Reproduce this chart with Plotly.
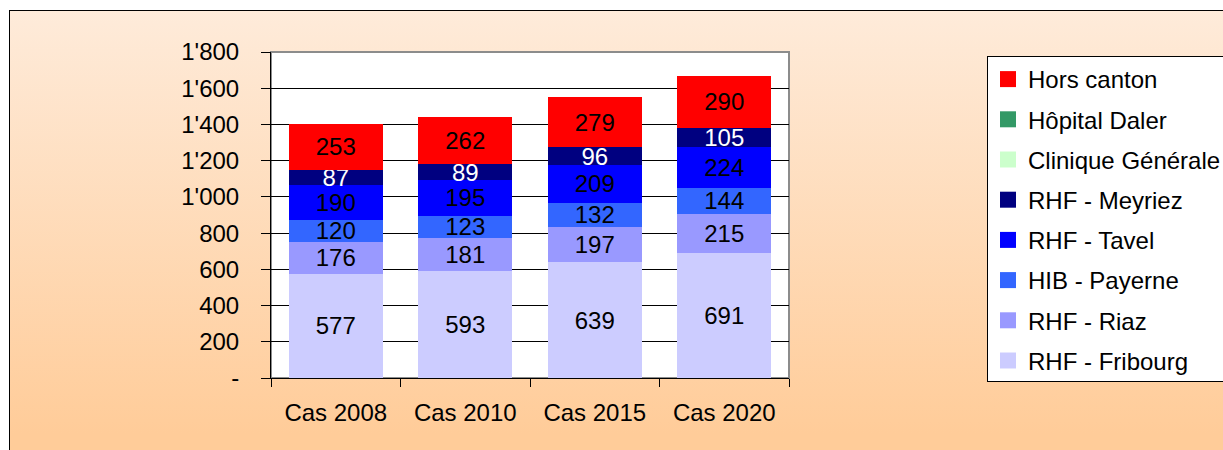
import base64
import plotly.graph_objects as go

# ---- data ----
categories = ["Cas 2008", "Cas 2010", "Cas 2015", "Cas 2020"]
rhf_fribourg = [577, 593, 639, 691]
rhf_riaz = [176, 181, 197, 215]
hib_payerne = [120, 123, 132, 144]
rhf_tavel = [190, 195, 209, 224]
rhf_meyriez = [87, 89, 96, 105]
clinique_generale = [0, 0, 0, 0]
hopital_daler = [0, 0, 0, 0]
hors_canton = [253, 262, 279, 290]

y_tick_values = [0, 200, 400, 600, 800, 1000, 1200, 1400, 1600, 1800]
y_tick_labels = ["-", "200", "400", "600", "800", "1'000", "1'200", "1'400", "1'600", "1'800"]

# stack order, bottom to top: (name, values, fill colour, label colour)
series = [
    ("RHF - Fribourg", rhf_fribourg, "#CCCCFF", "black"),
    ("RHF - Riaz", rhf_riaz, "#9999FF", "black"),
    ("HIB - Payerne", hib_payerne, "#3366FF", "black"),
    ("RHF - Tavel", rhf_tavel, "#0000FF", "black"),
    ("RHF - Meyriez", rhf_meyriez, "#000080", "white"),
    ("Clinique Générale", clinique_generale, "#CCFFCC", "black"),
    ("Hôpital Daler", hopital_daler, "#339966", "black"),
    ("Hors canton", hors_canton, "#FF0000", "black"),
]

FONT = "Liberation Sans, Arial, sans-serif"
FS = 24

# figure geometry (pixels)
W, H = 1223, 450
L, R, T, B = 271, 1223 - 789, 52, 450 - 378
PW, PH = W - L - R, H - T - B

fig = go.Figure()

for name, vals, color, tcolor in series:
    fig.add_trace(go.Bar(
        x=categories, y=vals, name=name,
        marker=dict(color=color, line=dict(width=0)),
        text=[str(v) if v else "" for v in vals],
        textposition="inside", insidetextanchor="middle", textangle=0,
        textfont=dict(family=FONT, size=FS, color=tcolor),
        constraintext="none", cliponaxis=False,
        showlegend=False, hoverinfo="x+y+name",
    ))

# legend entries, listed top to bottom
for name, vals, color, tcolor in reversed(series):
    fig.add_trace(go.Scatter(
        x=[None], y=[None], mode="markers", name=name, legendgroup=name,
        marker=dict(symbol="square", size=16, color=color),
        showlegend=True,
    ))

# peach gradient page background with a thin frame
svg = (
    f'<svg xmlns="http://www.w3.org/2000/svg" width="{W}" height="{H}" '
    f'viewBox="0 0 {W} {H}" preserveAspectRatio="none">'
    '<defs><linearGradient id="g" x1="0" y1="0" x2="0" y2="1">'
    '<stop offset="0" stop-color="#FEEBDA"/>'
    '<stop offset="0.9" stop-color="#FFCC99"/>'
    '<stop offset="1" stop-color="#FFCC99"/>'
    '</linearGradient></defs>'
    f'<rect width="{W}" height="{H}" fill="white"/>'
    f'<rect x="9.5" y="10.5" width="{W + 20}" height="{H + 20}" fill="url(#g)" '
    'stroke="black" stroke-width="1"/></svg>'
)
bg_src = "data:image/svg+xml;base64," + base64.b64encode(svg.encode("utf-8")).decode("ascii")

fig.update_layout(
    width=W, height=H,
    margin=dict(l=L, r=R, t=T, b=B, autoexpand=False),
    paper_bgcolor="white",
    plot_bgcolor="rgba(0,0,0,0)",
    barmode="stack",
    bargap=0.274,
    font=dict(family=FONT, size=FS, color="black"),
    uniformtext=dict(minsize=FS, mode="show"),
    images=[dict(
        source=bg_src, xref="paper", yref="paper",
        x=-L / PW, y=(PH + T) / PH, sizex=W / PW, sizey=H / PH,
        xanchor="left", yanchor="top", sizing="stretch", layer="below",
    )],
    shapes=[dict(
        type="rect", xref="paper", yref="paper", x0=0, x1=1, y0=0, y1=1,
        fillcolor="white", line=dict(color="#8C8C8C", width=2), layer="below",
    )],
    xaxis=dict(
        type="category", tickson="boundaries",
        ticks="outside", ticklen=8, tickcolor="black", tickwidth=1,
        showline=True, linecolor="black", linewidth=1,
        showgrid=False, ticklabelstandoff=13,
        tickfont=dict(family=FONT, size=FS, color="black"),
    ),
    yaxis=dict(
        range=[0, 1800], tickvals=y_tick_values, ticktext=y_tick_labels,
        ticks="outside", ticklen=9, tickcolor="black", tickwidth=1,
        showline=True, linecolor="black", linewidth=1,
        showgrid=True, gridcolor="black", gridwidth=1, zeroline=False,
        ticklabelstandoff=17,
        tickfont=dict(family=FONT, size=FS, color="black"),
    ),
    legend=dict(
        x=(987 - L) / PW, y=(378 - 56) / PH, xanchor="left", yanchor="top",
        bgcolor="white", bordercolor="black", borderwidth=1,
        font=dict(family=FONT, size=FS, color="black"),
        traceorder="grouped", tracegroupgap=6, itemwidth=30,
    ),
)

fig.write_html("out.html")
